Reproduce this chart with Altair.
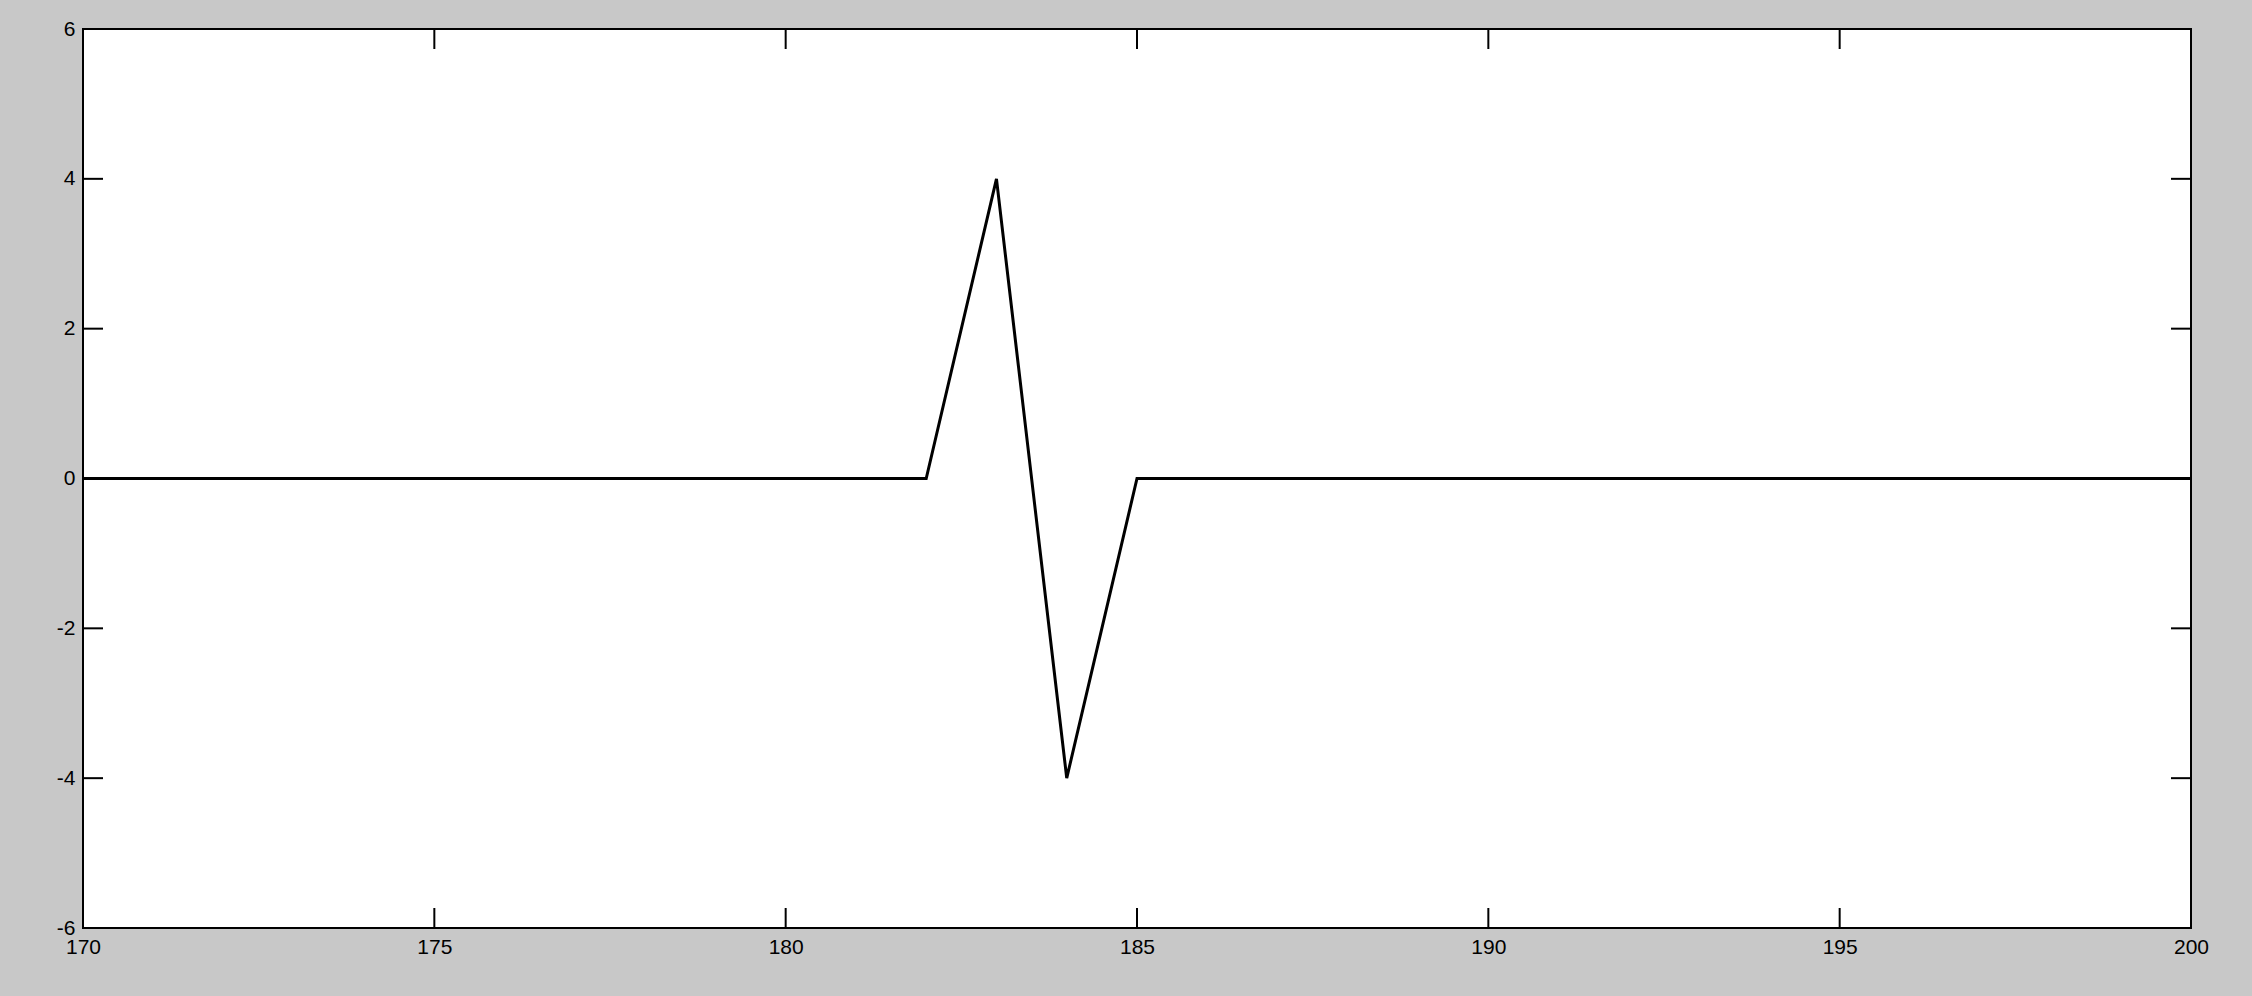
import altair as alt
import pandas as pd

# data
x_vals = list(range(170, 201))
y_vals = [0] * len(x_vals)
y_vals[x_vals.index(183)] = 4
y_vals[x_vals.index(184)] = -4

x_ticks = [170, 175, 180, 185, 190, 195, 200]
y_ticks = [-6, -4, -2, 0, 2, 4, 6]

W, H = 2108, 899
TL = 20

df = pd.DataFrame({"x": x_vals, "y": y_vals})
dx = pd.DataFrame({"t": x_ticks})
dy = pd.DataFrame({"v": y_ticks})

xs = alt.Scale(domain=[170, 200], nice=False, zero=False)
ys = alt.Scale(domain=[-6, 6], nice=False, zero=False)

lab = dict(labelFont="Liberation Sans", labelFontSize=21, labelColor="black",
           labelFlush=False, labelOverlap=False, tickSize=0, domain=False,
           grid=False, title=None, labelPadding=8,
           labelExpr="'' + datum.value")

line = alt.Chart(df).mark_line(color="black", strokeWidth=3).encode(
    x=alt.X("x:Q", scale=xs, axis=alt.Axis(values=x_ticks, **lab)),
    y=alt.Y("y:Q", scale=ys, axis=alt.Axis(values=y_ticks, **lab)),
)

xt_bot = alt.Chart(dx).mark_rule(color="black", strokeWidth=2).encode(
    x=alt.X("t:Q", scale=xs), y=alt.value(H), y2=alt.value(H - TL))
xt_top = alt.Chart(dx).mark_rule(color="black", strokeWidth=2).encode(
    x=alt.X("t:Q", scale=xs), y=alt.value(0), y2=alt.value(TL))
yt_left = alt.Chart(dy).mark_rule(color="black", strokeWidth=2).encode(
    y=alt.Y("v:Q", scale=ys), x=alt.value(0), x2=alt.value(TL))
yt_right = alt.Chart(dy).mark_rule(color="black", strokeWidth=2).encode(
    y=alt.Y("v:Q", scale=ys), x=alt.value(W), x2=alt.value(W - TL))

chart = alt.layer(line, xt_bot, xt_top, yt_left, yt_right).properties(
    width=W, height=H,
    autosize=alt.AutoSizeParams(type="none"),
    padding={"left": 83, "top": 29, "right": 61, "bottom": 68},
    background="#c8c8c8",
).configure_view(fill="white", stroke="black", strokeWidth=2)

chart.save("out.html", embed_options={"renderer": "svg", "actions": False})
